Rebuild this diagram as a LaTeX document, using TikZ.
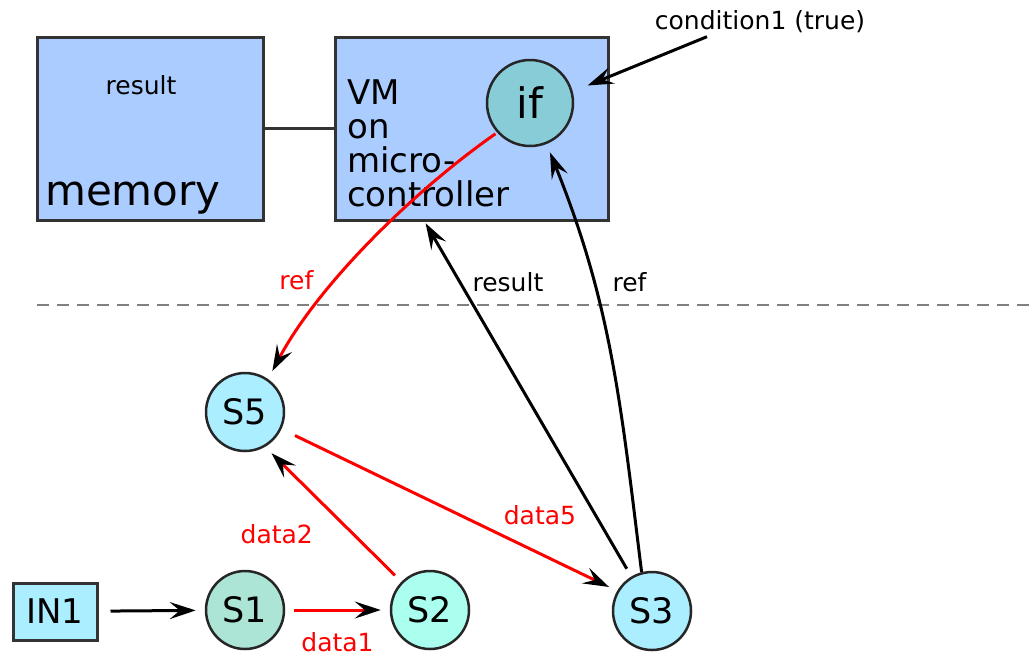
\documentclass[tikz,border=0pt]{standalone}
\usepackage{fontspec}
\setmainfont{DejaVu Sans}
\usepackage{xcolor}
\usetikzlibrary{arrows.meta,calc}

\definecolor{boxblue}{HTML}{AACCFF}
\definecolor{ifcol}{HTML}{88CCD8}
\definecolor{stncyan}{HTML}{AAEEFF}
\definecolor{stngreen}{HTML}{ACE5D6}
\definecolor{stnmint}{HTML}{AAFFEE}

\begin{document}
\begin{tikzpicture}[x=1pt,y=-1pt,
  box/.style={draw=black!80,line width=3pt,fill=boxblue,inner sep=0pt},
  stn/.style={circle,draw=black!85,line width=2.5pt,minimum size=78pt,inner sep=0pt,font=\fontsize{35}{40}\selectfont},
  arr/.style={line width=3pt,-{Stealth[length=26pt,width=17pt,inset=10pt,black]},shorten <=9pt,shorten >=9pt},
  lbl/.style={font=\fontsize{25}{30}\selectfont}]
\useasboundingbox (0,0) rectangle (1032,657);

% Boxes on top
\node[box,minimum width=226pt,minimum height=183pt] (mem) at (150,128.5) {};
\node[box,minimum width=273pt,minimum height=183pt] (vm) at (471.5,128.5) {};
\draw[line width=3pt,black!80] (mem.east) -- (vm.west);

\node[lbl] (memres) at (141,85) {result};
\node[anchor=base west,inner sep=0pt,font=\fontsize{42}{48}\selectfont] (memtxt) at (45,205) {memory};
\node[anchor=north west,align=left,inner sep=0pt,font=\fontsize{34}{34}\selectfont] (vmtxt) at (347,80) {VM\\on\\micro-\\controller};

\node[circle,draw=black!85,line width=2.5pt,fill=ifcol,minimum size=86pt,inner sep=0pt,font=\fontsize{42}{46}\selectfont] (if) at (530,103) {if};
\node[lbl] (cond) at (760,22) {condition1 (true)};

% Separator
\draw[gray,line width=1.5pt,dash pattern=on 12pt off 8pt] (37,305) -- (1032,305);

% Stations
\node[stn,fill=stncyan] (s5) at (245,412) {S5};
\node[stn,fill=stngreen] (s1) at (245,610) {S1};
\node[stn,fill=stnmint] (s2) at (430,610) {S2};
\node[stn,fill=stncyan] (s3) at (652,611) {S3};
\node[draw=black!80,line width=3pt,fill=stncyan,minimum width=84pt,minimum height=57pt,inner sep=0pt,font=\fontsize{34}{40}\selectfont] (in1) at (55,611.5) {IN1};

\coordinate (vmres) at ($(vm.south west)!0.33!(vm.south east)$);

% Connectors
\draw[arr,shorten <=0pt,shorten >=16pt] ([xshift=-53pt]cond.south) -- (if.15);
\draw[arr,shorten <=12pt] (in1) -- (s1);
\draw[arr,red] (s1) -- node[lbl,below=18pt] {data1} (s2);
\draw[arr,red] (s2) -- node[lbl,pos=0.35,left=36pt] {data2} (s5.-60);
\draw[arr,red,shorten <=15pt] (s5.-25) -- node[lbl,pos=0.77,above=24pt] {data5} (s3.150);
\draw[arr,shorten >=2pt] (s3.121) -- node[lbl,pos=0.83,right=8pt] {result} (vmres);
\draw[arr,shorten <=0pt] (s3.105) to[out=97,in=-68] node[lbl,pos=0.68,right=14pt] {ref} (if.-68);
\draw[arr,red,shorten <=2pt] (if.222) to[out=215,in=62,looseness=0.8] node[lbl,pos=0.64,left=18pt] {ref} (s5.55);
\end{tikzpicture}
\end{document}
